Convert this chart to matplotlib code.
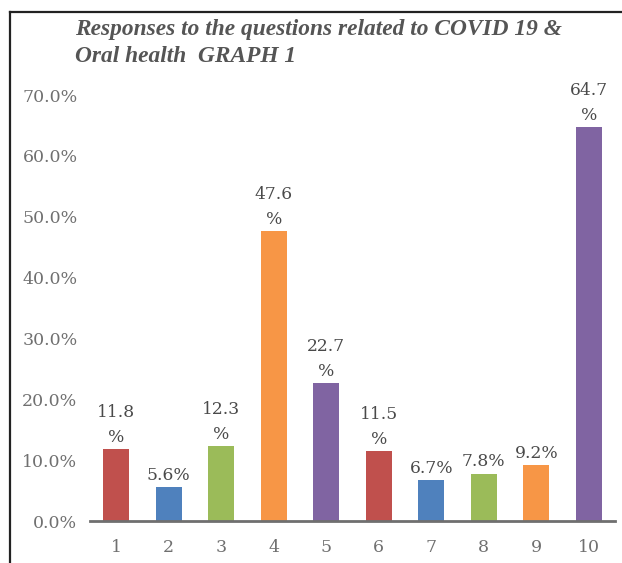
import matplotlib
matplotlib.use("Agg")
import matplotlib.pyplot as plt
from matplotlib.lines import Line2D

# Question numbers and share of respondents (%)
questions = ["1", "2", "3", "4", "5", "6", "7", "8", "9", "10"]
values = [11.8, 5.6, 12.3, 47.6, 22.7, 11.5, 6.7, 7.8, 9.2, 64.7]
# labels that wrap onto a second line in the data-label box
wrapped = [True, False, True, True, True, True, False, False, False, True]
colors = ["#C0504D", "#4F81BD", "#9BBB59", "#F79646", "#8064A2",
          "#C0504D", "#4F81BD", "#9BBB59", "#F79646", "#8064A2"]
yticks = [0, 10, 20, 30, 40, 50, 60, 70]

plt.rcParams["font.family"] = ["DejaVu Serif"]

fig = plt.figure(figsize=(6.22, 5.63), dpi=100)
ax = fig.add_axes([90 / 622, 1 - 521 / 563, 525 / 622, (521 - 95) / 563])

x = list(range(1, len(values) + 1))
ax.bar(x, values, width=0.5, color=colors, zorder=2)

for xi, v, w in zip(x, values, wrapped):
    txt = f"{v:.1f}\n%" if w else f"{v:.1f}%"
    ax.text(xi, v + 0.5, txt, ha="center", va="bottom", fontsize=12.3,
            color="#4A4A4A", linespacing=1.6, clip_on=False)

ax.set_xlim(0.5, 10.5)
ax.set_ylim(0, 70)
ax.set_xticks(x)
ax.set_xticklabels(questions)
ax.set_yticks(yticks)
ax.set_yticklabels([f"{t:.1f}%" for t in yticks])
ax.tick_params(axis="both", length=0, labelsize=12.5, colors="#707070")
ax.tick_params(axis="x", pad=13)
ax.tick_params(axis="y", pad=9)

for s in ["top", "right", "left"]:
    ax.spines[s].set_visible(False)
ax.spines["bottom"].set_color("#6F6F6F")
ax.spines["bottom"].set_linewidth(2)

# outer frame lines on the top and left edges
fig.add_artist(Line2D([10 / 622, 1.0], [1 - 12 / 563, 1 - 12 / 563],
                      transform=fig.transFigure, color="#222222", lw=1.6))
fig.add_artist(Line2D([10 / 622, 10 / 622], [0, 1 - 12 / 563],
                      transform=fig.transFigure, color="#222222", lw=1.6))

title_lines = ["Responses to the questions related to COVID 19 &",
               "Oral health  GRAPH 1"]
for line, yc in zip(title_lines, [30, 57]):
    fig.text(75 / 622, 1 - yc / 563, line, ha="left", va="center",
             fontsize=16.8, fontweight="bold", fontstyle="italic",
             color="#555555", family=["Liberation Serif", "DejaVu Serif"])

fig.savefig("out.png", dpi=100)
